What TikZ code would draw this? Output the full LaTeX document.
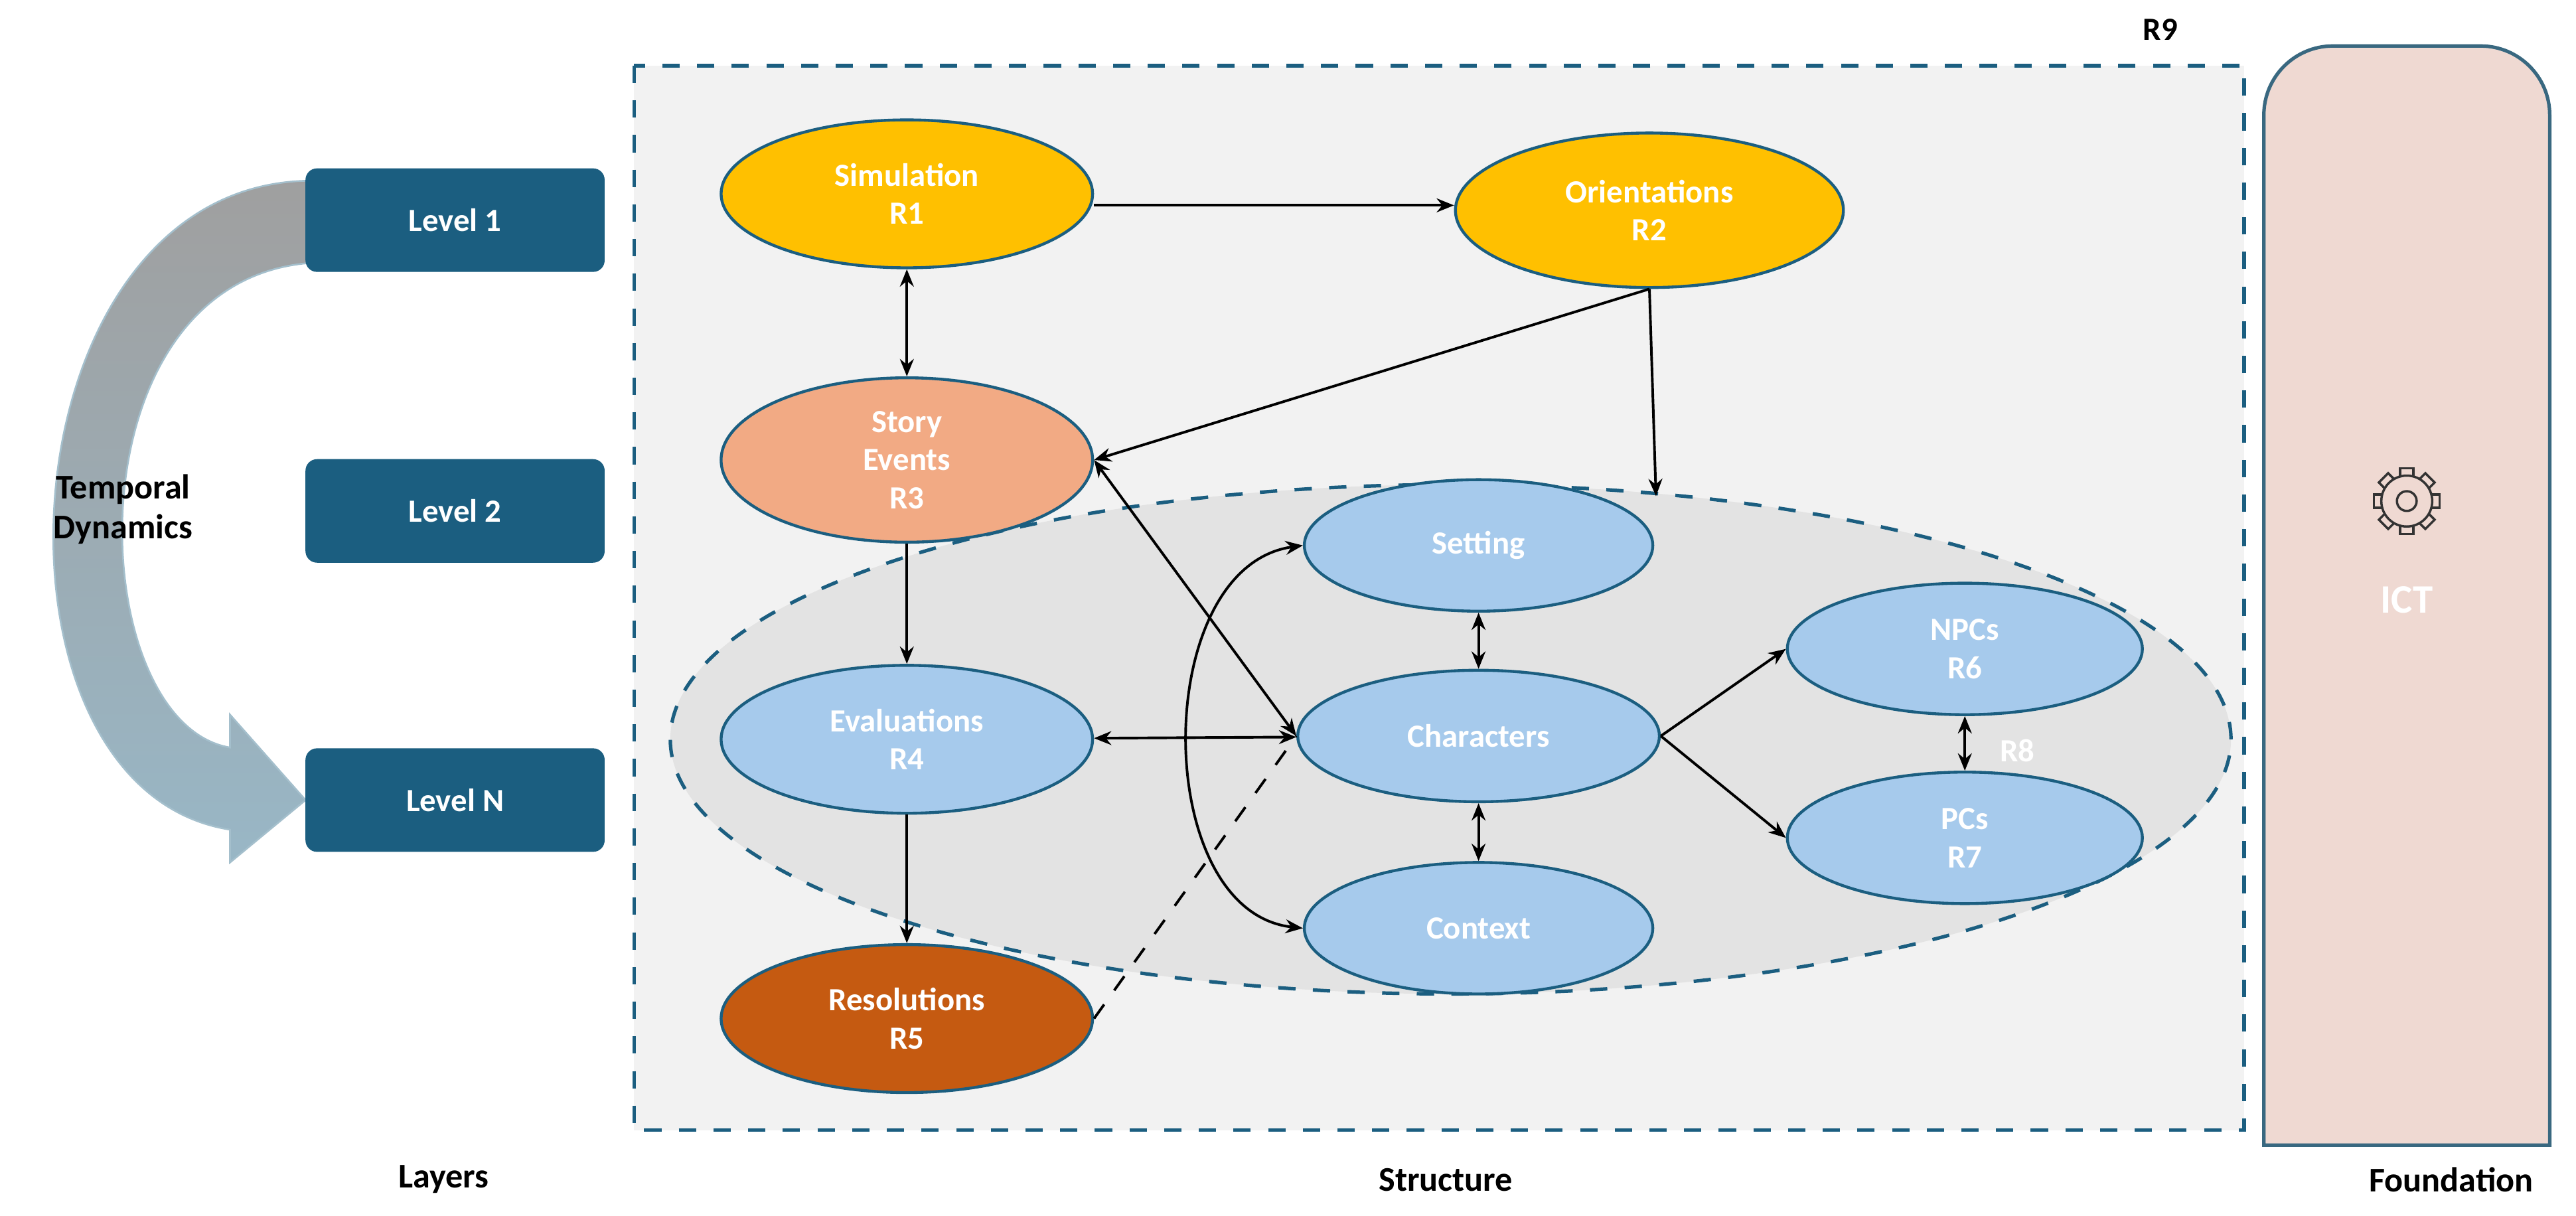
\documentclass[tikz,border=0pt]{standalone}
\usepackage{fontspec}
\setmainfont{Carlito}
\usetikzlibrary{arrows.meta,shapes.geometric}
\definecolor{gold}{HTML}{FFC000}
\definecolor{peach}{HTML}{F2AA84}
\definecolor{lblue}{HTML}{A6CAEC}
\definecolor{rust}{HTML}{C55A11}
\definecolor{teal}{HTML}{1B5E80}
\definecolor{pinkbg}{HTML}{EFD9D2}
\tikzset{
  txt/.style={font=\fontsize{5.6}{6.6}\selectfont\bfseries},
  ell/.style={ellipse,draw=teal,line width=0.5pt,txt,text=white,align=center,inner sep=0pt},
  lvl/.style={rectangle,rounded corners=2pt,fill=teal,txt,text=white,minimum width=1.82cm,minimum height=0.63cm},
  con/.style={line width=0.45pt,-{Stealth[length=3pt,width=2.4pt]}},
  bcon/.style={line width=0.45pt,{Stealth[length=3pt,width=2.4pt]}-{Stealth[length=3pt,width=2.4pt]}},
}
\begin{document}
\begin{tikzpicture}[x=0.01cm,y=-0.01cm]
\useasboundingbox (0,0) rectangle (1568,740);
% structure frame
\draw[dashed,draw=teal,fill=gray!10,line width=0.6pt] (386,40) rectangle (1366,688);
\node[txt] (r9) at (1315,18) {R9};
% foundation
\draw[draw=teal!70!gray,fill=pinkbg,line width=0.6pt] (1378,697) -- (1378,70) arc[start angle=180,end angle=90,x radius=42,y radius=-42] -- (1510,28) arc[start angle=90,end angle=0,x radius=42,y radius=-42] -- (1552,697) -- cycle;
\begin{scope}[shift={(1465,305)}]
\draw[line width=0.4pt,draw=black!80] circle[radius=6];
\foreach \a in {0,45,...,315}{
  \draw[line width=0.4pt,draw=black!80,rotate=\a] (-4,-15) -- (-4,-20) -- (4,-20) -- (4,-15);
}
\draw[line width=0.4pt,draw=black!80] circle[radius=15.5];
\end{scope}
\node[txt,text=white] (ict) at (1465,365) {\fontsize{7}{8}\selectfont ICT};
% dashed ellipse
\draw[dashed,draw=teal,fill=gray!22,line width=0.6pt] (883,450) ellipse[x radius=475,y radius=-155];
% temporal arrow
\shade[top color=gray!75,bottom color=teal!45!white,draw=teal!40,line width=0.3pt]
 (190,110) .. controls (0,110) and (-20,480) .. (140,505) -- (140,525) -- (186,487) -- (140,435) -- (140,455) .. controls (50,440) and (40,170) .. (190,160) -- cycle;
\node[txt,align=center,font=\fontsize{6}{7}\selectfont\bfseries] (td) at (75,310) {Temporal\\Dynamics};
% levels
\node[lvl] (l1) at (277,134) {Level 1};
\node[lvl] (l2) at (277,311) {Level 2};
\node[lvl] (ln) at (277,487) {Level N};
% nodes
\node[ell,fill=gold,minimum width=2.26cm,minimum height=0.9cm] (r1) at (552,118) {Simulation\\R1};
\node[ell,fill=gold,minimum width=2.36cm,minimum height=0.94cm] (r2) at (1004,128) {Orientations\\R2};
\node[ell,fill=peach,minimum width=2.26cm,minimum height=1.0cm] (r3) at (552,280) {Story\\Events\\R3};
\node[ell,fill=lblue,minimum width=2.26cm,minimum height=0.9cm] (r4) at (552,450) {Evaluations\\R4};
\node[ell,fill=rust,minimum width=2.26cm,minimum height=0.9cm] (r5) at (552,620) {Resolutions\\R5};
\node[ell,fill=lblue,minimum width=2.12cm,minimum height=0.8cm] (set) at (900,332) {Setting};
\node[ell,fill=lblue,minimum width=2.2cm,minimum height=0.8cm] (ch) at (900,448) {Characters};
\node[ell,fill=lblue,minimum width=2.12cm,minimum height=0.8cm] (ctx) at (900,565) {Context};
\node[ell,fill=lblue,minimum width=2.16cm,minimum height=0.8cm] (r6) at (1196,395) {NPCs\\R6};
\node[ell,fill=lblue,minimum width=2.16cm,minimum height=0.8cm] (r7) at (1196,510) {PCs\\R7};
\node[txt,text=white] (r8) at (1228,457) {R8};
\coordinate (etop) at (1008,302);
% connectors
\draw[con] (r1.east |- 0,125) -- (r2.west |- 0,125);
\draw[bcon] (r1) -- (r3);
\draw[con] (r2.south) -- (r3.east);
\draw[con] (r2.south) -- (etop);
\draw[bcon] (r3.east) -- (ch.west);
\draw[con] (r3) -- (r4);
\draw[bcon] (r4) -- (ch);
\draw[con] (r4) -- (r5);
\draw[dashed,line width=0.45pt] (r5.east) -- (ch.west);
\draw[bcon] (set.west) .. controls (700,345) and (700,555) .. (ctx.west);
\draw[bcon] (set) -- (ch);
\draw[bcon] (ch) -- (ctx);
\draw[con] (ch.east) -- (r6.west);
\draw[con] (ch.east) -- (r7.west);
\draw[bcon] (r6) -- (r7);
% bottom labels
\node[txt,font=\fontsize{6}{7}\selectfont\bfseries] (lay) at (270,718) {Layers};
\node[txt,font=\fontsize{6}{7}\selectfont\bfseries] (str) at (880,718) {Structure};
\node[txt,font=\fontsize{6}{7}\selectfont\bfseries] (fou) at (1492,718) {Foundation};
\end{tikzpicture}
\end{document}
